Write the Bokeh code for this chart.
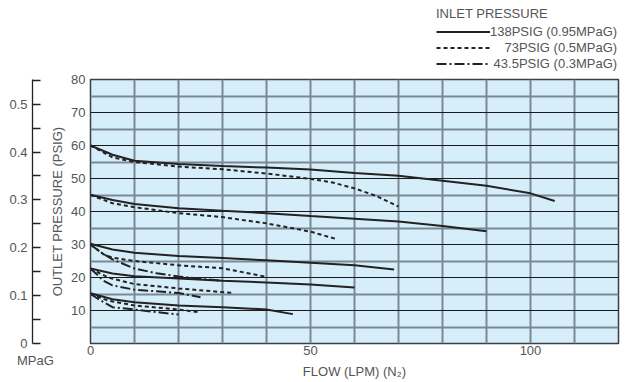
import math
from bokeh.plotting import figure
from bokeh.models import (Range1d, FixedTicker, Legend, LegendItem, Label, Div)
from bokeh.layouts import column, row
from bokeh.embed import file_html
from bokeh.resources import INLINE

# ---------------- data ----------------
# inlet 138 PSIG (0.95 MPaG) - solid
s1_x = [0, 5, 10, 20, 30, 40, 50, 60, 70, 80, 90, 100, 105.5]
s1_y = [60, 57.2, 55.4, 54.4, 53.8, 53.3, 52.7, 51.7, 50.8, 49.3, 47.8, 45.5, 43.2]
s2_x = [0, 5, 10, 20, 30, 40, 50, 60, 70, 80, 90]
s2_y = [45.1, 43.5, 42.3, 41.0, 40.2, 39.5, 38.6, 37.8, 37.0, 35.6, 34.0]
s3_x = [0, 5, 10, 20, 30, 40, 50, 60, 69]
s3_y = [30.2, 28.5, 27.5, 26.5, 25.9, 25.2, 24.5, 23.7, 22.4]
s4_x = [0, 5, 10, 20, 30, 40, 50, 60]
s4_y = [22.7, 21.2, 20.4, 19.7, 19.0, 18.5, 17.9, 17.0]
s5_x = [0, 5, 10, 20, 30, 40, 46]
s5_y = [15.2, 13.4, 12.5, 11.5, 11.0, 10.3, 8.9]

# inlet 73 PSIG (0.5 MPaG) - dashed
d1_x = [0, 5, 10, 20, 30, 40, 50, 55, 60, 65, 70]
d1_y = [60, 56.4, 55.0, 53.6, 52.8, 51.5, 49.9, 48.8, 47.0, 44.7, 41.5]
d2_x = [0, 5, 10, 20, 30, 40, 50, 56]
d2_y = [45, 42.5, 41.3, 39.5, 38.3, 36.4, 33.9, 31.6]
d3_x = [0, 3, 5, 10, 20, 30, 35, 40]
d3_y = [30, 27, 26, 25.0, 23.7, 22.8, 21.5, 20.2]
d4_x = [0, 4, 10, 20, 32.5]
d4_y = [22.7, 20, 18, 16.7, 15.3]
d5_x = [0, 4, 10, 20, 25]
d5_y = [15, 13, 11.5, 10.3, 9.4]

# inlet 43.5 PSIG (0.3 MPaG) - dash-dot
c3_x = [0, 2.5, 5, 10, 15, 20, 25, 30]
c3_y = [30, 27.5, 25.5, 22.7, 21.3, 20.3, 19.6, 19.0]
c4_x = [0, 3, 5, 10, 20, 25]
c4_y = [22.7, 19, 17.6, 16.3, 15.3, 14.0]
c5_x = [0, 3, 5, 10, 15, 20]
c5_y = [15, 12.5, 11, 10.3, 9.5, 8.8]

legend_title = "INLET PRESSURE"
legend_labels = ["138PSIG (0.95MPaG)", "\u2007\u200773PSIG (0.5MPaG)", "\u00a043.5PSIG (0.3MPaG)"]
y_title = "OUTLET PRESSURE (PSIG)"
x_title = "FLOW (LPM) (N\u2082)"
mpa_unit = "MPaG"

x_ticks = [0, 50, 100]
x_grid = [10, 20, 30, 40, 50, 60, 70, 80, 90, 100, 110]
y_ticks = [10, 20, 30, 40, 50, 60, 70, 80]
y_grid_major = [10, 20, 30, 40, 50, 60, 70]
y_grid_minor = [5, 15, 25, 35, 45, 55, 65, 75]
mpa_ticks = [0, 0.1, 0.2, 0.3, 0.4, 0.5]
mpa_minor = [0.05, 0.15, 0.25, 0.35, 0.45, 0.55]
PSI_PER_MPA = 145.038
MPA_TOP = 80 / PSI_PER_MPA

# ---------------- styles ----------------
FONT = "Liberation Sans"
TXT = "#555555"
INK = "#222222"
GRAY = "#7a8894"
FS = "13px"
solid = dict(line_color=INK, line_width=2)
dashed = dict(line_color=INK, line_width=2, line_dash="4 3")
dashdot = dict(line_color=INK, line_width=2, line_dash="10 3 2 3")

def bare(fig):
    fig.outline_line_color = None
    fig.background_fill_color = "white"
    fig.border_fill_color = "white"
    return fig

# ---------------- legend strip (top) ----------------
# the legend samples reuse the series data; it lies outside this strip's ranges,
# so only the legend glyphs are visible here
lg = bare(figure(width=625, height=71, x_range=Range1d(0, 1), y_range=Range1d(-1, 0),
                 x_axis_type=None, y_axis_type=None, output_backend="svg",
                 toolbar_location=None, min_border=0))
lg.grid.visible = False
lr_s = lg.line(s1_x, s1_y, **solid)
lr_d = lg.line(d1_x, d1_y, **dashed)
lr_c = lg.line(c3_x, c3_y, **dashdot)
legend = Legend(items=[LegendItem(label=legend_labels[0], renderers=[lr_s]),
                       LegendItem(label=legend_labels[1], renderers=[lr_d]),
                       LegendItem(label=legend_labels[2], renderers=[lr_c])],
                title=legend_title, location=(436, 0), orientation="vertical")
legend.title_text_font = FONT
legend.title_text_font_size = FS
legend.title_text_font_style = "normal"
legend.title_text_color = TXT
legend.title_standoff = 3
legend.label_text_font = FONT
legend.label_text_font_size = FS
legend.label_text_color = TXT
legend.glyph_width = 54
legend.glyph_height = 15
legend.label_height = 15
legend.label_standoff = 0
legend.spacing = 1
legend.padding = 0
legend.margin = 0
legend.border_line_color = None
legend.background_fill_alpha = 0
lg.add_layout(legend)

# ---------------- MPaG axis strip (left) ----------------
mp = bare(figure(width=68, height=282, x_range=Range1d(0, 36), y_range=Range1d(0, MPA_TOP),
                 x_axis_type=None, output_backend="svg", toolbar_location=None,
                 min_border_left=32, min_border_right=0, min_border_top=8, min_border_bottom=10))
mp.grid.visible = False
ma = mp.yaxis[0]
ma.ticker = FixedTicker(ticks=mpa_ticks, minor_ticks=mpa_minor)
ma.axis_line_color = INK
ma.axis_line_width = 1.3
ma.major_tick_line_color = INK
ma.minor_tick_line_color = INK
ma.major_tick_line_width = 1.3
ma.minor_tick_line_width = 1.3
ma.major_tick_in = 8
ma.major_tick_out = 0
ma.minor_tick_in = 8
ma.minor_tick_out = 0
ma.major_label_standoff = 5
ma.major_label_overrides = {0: "0"}
ma.major_label_text_font = FONT
ma.major_label_text_font_size = FS
ma.major_label_text_color = TXT
mp.add_layout(Label(x=25, y=MPA_TOP / 2, text=y_title, angle=math.pi / 2,
                    text_align="center", text_baseline="middle",
                    text_font=FONT, text_font_size=FS, text_color=TXT))

un = Div(text=mpa_unit, width=68, height=29,
         styles={"font-family": FONT, "font-size": FS, "color": TXT,
                 "padding-left": "17px", "line-height": "15px", "margin": "0",
                 "box-sizing": "border-box"})

# ---------------- main chart ----------------
p = figure(width=557, height=311, x_range=Range1d(0, 120), y_range=Range1d(0, 80),
           output_backend="svg", toolbar_location=None,
           min_border_left=20, min_border_right=7, min_border_top=8, min_border_bottom=39)
p.background_fill_color = "#d6eefa"
p.border_fill_color = "white"
p.outline_line_color = "#3a3f44"
p.outline_line_width = 1.5

p.xgrid.ticker = FixedTicker(ticks=x_grid)
p.xgrid.grid_line_color = GRAY
p.xgrid.grid_line_width = 2
p.ygrid.ticker = FixedTicker(ticks=y_grid_major, minor_ticks=y_grid_minor)
p.ygrid.grid_line_color = "#1a1a1a"
p.ygrid.grid_line_width = 1.2
p.ygrid.minor_grid_line_color = GRAY
p.ygrid.minor_grid_line_width = 2

xa = p.xaxis[0]
xa.ticker = FixedTicker(ticks=x_ticks)
xa.major_label_standoff = 2
xa.axis_label = x_title
xa.axis_label_standoff = 6
ya = p.yaxis[0]
ya.ticker = FixedTicker(ticks=y_ticks)
ya.major_label_standoff = 5
for ax in (xa, ya):
    ax.axis_line_color = None
    ax.major_tick_line_color = None
    ax.minor_tick_line_color = None
    ax.major_tick_out = 0
    ax.major_tick_in = 0
    ax.minor_tick_out = 0
    ax.minor_tick_in = 0
    ax.major_label_text_font = FONT
    ax.major_label_text_font_size = FS
    ax.major_label_text_color = TXT
    ax.axis_label_text_font = FONT
    ax.axis_label_text_font_size = FS
    ax.axis_label_text_font_style = "normal"
    ax.axis_label_text_color = TXT

for xs, ys in ((s1_x, s1_y), (s2_x, s2_y), (s3_x, s3_y), (s4_x, s4_y), (s5_x, s5_y)):
    p.line(xs, ys, **solid)
for xs, ys in ((d1_x, d1_y), (d2_x, d2_y), (d3_x, d3_y), (d4_x, d4_y), (d5_x, d5_y)):
    p.line(xs, ys, **dashed)
for xs, ys in ((c3_x, c3_y), (c4_x, c4_y), (c5_x, c5_y)):
    p.line(xs, ys, **dashdot)

layout = column(lg, row(column(mp, un), p))
open("out.html", "w").write(file_html(layout, INLINE))
